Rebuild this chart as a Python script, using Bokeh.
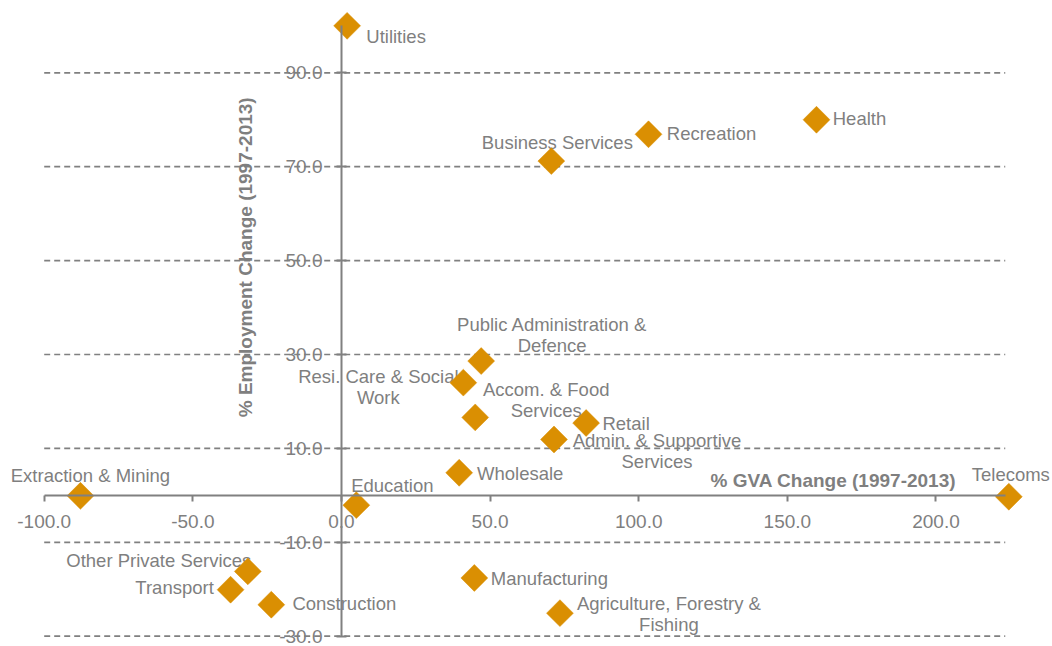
import math
from bokeh.plotting import figure
from bokeh.models import (ColumnDataSource, Range1d, FixedTicker, NumeralTickFormatter, Label)
from bokeh.core.properties import value
from bokeh.embed import file_html
from bokeh.resources import INLINE

# ---- data ----
sectors = [
    "Utilities", "Business Services", "Recreation", "Health",
    "Public Administration &\nDefence", "Resi. Care & Social\nWork",
    "Accom. & Food\nServices", "Retail", "Admin. & Supportive\nServices",
    "Wholesale", "Education", "Extraction & Mining", "Telecoms",
    "Other Private Services", "Transport", "Construction", "Manufacturing",
    "Agriculture, Forestry &\nFishing",
]
gva_change = [1.9, 70.6, 103.3, 159.8, 47.0, 41.0, 45.0, 82.3, 71.5,
              39.6, 5.0, -87.8, 224.5, -31.5, -37.3, -23.6, 44.7, 73.5]
emp_change = [100.0, 71.2, 76.9, 80.0, 28.6, 24.0, 16.6, 15.4, 11.9,
              4.8, -2.1, -0.1, -0.3, -16.2, -20.1, -23.3, -17.6, -25.1]

x_ticks = [-100, -50, 0, 50, 100, 150, 200]
y_ticks = [-30, -10, 10, 30, 50, 70, 90]

x_title = "% GVA Change (1997-2013)"
y_title = "% Employment Change (1997-2013)"

# label placement (screen px offsets of label centre from its point)
label_dx = [49, 6, 63, 43, 71, -85, 71, 40, 103, 61, 36, 10, 2, -89, -56, 73, 75, 109]
label_dy = [11, -19, -1, -1, -26, 4, -17, 0, 12, 1, -20, -20, -22, -11, -2, -1, 1, 1]

GRAY = "#808080"
TEXT = "#7f7f7f"
ORANGE = "#DA8F02"
FONT = "Liberation Sans"

src = ColumnDataSource(dict(x=gva_change, y=emp_change, label=sectors,
                            dx=label_dx, dy=label_dy))
grid_src = ColumnDataSource(dict(y=y_ticks, x0=[x_ticks[0]] * len(y_ticks),
                                 x1=[223.3] * len(y_ticks)))

p = figure(width=1052, height=646, x_range=Range1d(-114.7, 239.2),
           y_range=Range1d(-32.2, 105.4), output_backend="svg",
           toolbar_location=None, min_border=0)
p.outline_line_color = None
p.background_fill_color = "white"
p.border_fill_color = "white"

# grid (drawn as bounded dashed lines)
p.xgrid.visible = False
p.ygrid.visible = False
p.segment(x0="x0", x1="x1", y0="y", y1="y", source=grid_src,
          line_color=GRAY, line_width=1.7, line_dash="6 4")

# x axis
xa = p.xaxis[0]
xa.fixed_location = 0
xa.bounds = (-100, 223.3)
xa.ticker = FixedTicker(ticks=x_ticks)
xa.formatter = NumeralTickFormatter(format="0.0")
xa.axis_line_color = GRAY
xa.axis_line_width = 2
xa.major_tick_line_color = GRAY
xa.major_tick_line_width = 2
xa.major_tick_in = 0
xa.major_tick_out = 6
xa.minor_tick_line_color = None
xa.major_label_text_color = TEXT
xa.major_label_text_font = FONT
xa.major_label_text_font_size = "19px"
xa.major_label_standoff = 14

# y axis
ya = p.yaxis[0]
ya.fixed_location = 0
ya.bounds = (-30, 100)
ya.ticker = FixedTicker(ticks=y_ticks)
ya.formatter = NumeralTickFormatter(format="0.0")
ya.axis_line_color = GRAY
ya.axis_line_width = 2
ya.major_tick_line_color = GRAY
ya.major_tick_line_width = 2
ya.major_tick_in = 5
ya.major_tick_out = 5
ya.minor_tick_line_color = None
ya.major_label_text_color = TEXT
ya.major_label_text_font = FONT
ya.major_label_text_font_size = "19px"
ya.major_label_standoff = 14

# labels for points
p.text(x="x", y="y", text="label", x_offset="dx", y_offset="dy", source=src,
       text_align="center", text_baseline="middle",
       text_font=value(FONT), text_font_size="18.5px", text_color=TEXT,
       text_line_height=1.0)

# diamonds
p.scatter(x="x", y="y", source=src, marker="square", size=19,
          angle=math.pi / 4, fill_color=ORANGE, line_color=ORANGE, line_width=0.5)

# axis titles
p.add_layout(Label(x=165.5, y=3.2, text=x_title, text_align="center",
                   text_baseline="middle", text_font=FONT, text_font_size="19px",
                   text_font_style="bold", text_color=TEXT))
p.add_layout(Label(x=-32.3, y=50.7, text=y_title, angle=math.pi / 2,
                   text_align="center", text_baseline="middle", text_font=FONT,
                   text_font_size="19px", text_font_style="bold", text_color=TEXT))

open("out.html", "w").write(file_html(p, INLINE))
